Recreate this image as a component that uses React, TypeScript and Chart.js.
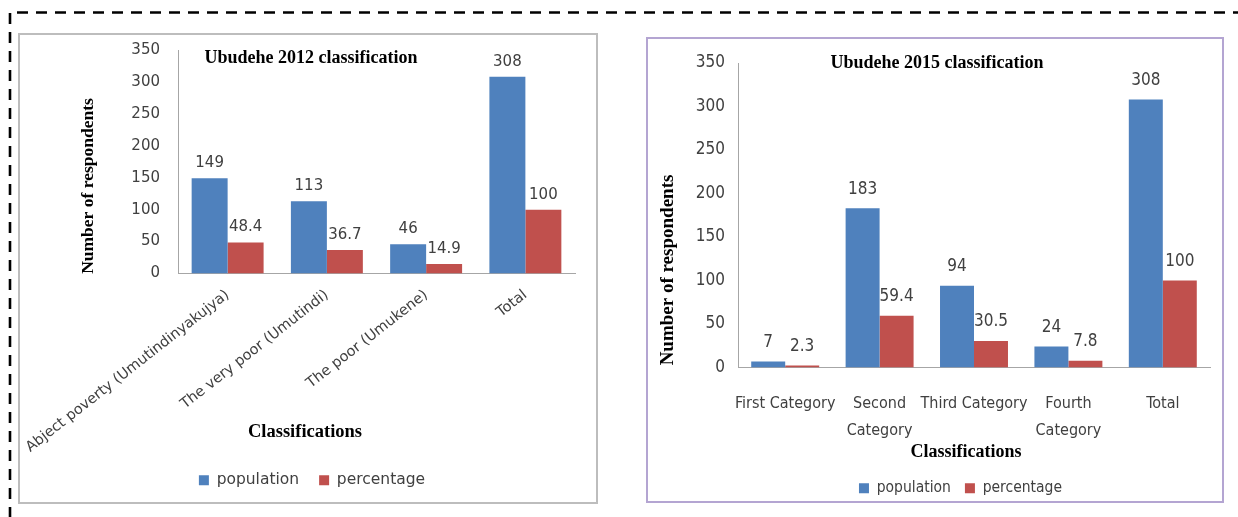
import React, { useEffect, useRef } from "react";
import { Chart, registerables } from "chart.js";

Chart.register(...registerables);

// Ubudehe 2012 classification
const classes2012 = [
  "Abject poverty (Umutindinyakujya)",
  "The very poor (Umutindi)",
  "The poor (Umukene)",
  "Total",
];
const population2012 = [149, 113, 46, 308];
const percentage2012 = [48.4, 36.7, 14.9, 100];

// Ubudehe 2015 classification
const classes2015 = [
  "First Category",
  ["Second", "Category"],
  "Third Category",
  ["Fourth", "Category"],
  "Total",
];
const population2015 = [7, 183, 94, 24, 308];
const percentage2015 = [2.3, 59.4, 30.5, 7.8, 100];

// shared value axis
const yTickValues = [0, 50, 100, 150, 200, 250, 300, 350];

const seriesNames = ["population", "percentage"];
const BLUE = "#4f81bd";
const RED = "#c0504d";
const AXIS = "#a6a6a6";
const TEXT = "#404040";

const SERIF = "'Liberation Serif', 'Times New Roman', serif";
const WIDE_SANS = "'DejaVu Sans', Verdana, sans-serif";
const NARROW_SANS = "'Liberation Sans Narrow', 'DejaVu Sans Condensed', 'Arial Narrow', sans-serif";

// Draws each bar's value above it
const valueLabels = {
  id: "valueLabels",
  afterDatasetsDraw(chart: any, _args: any, opts: any) {
    const ctx = chart.ctx;
    ctx.save();
    ctx.font = opts.font;
    ctx.fillStyle = opts.color;
    ctx.textAlign = "center";
    ctx.textBaseline = "middle";
    chart.data.datasets.forEach((ds: any, i: number) => {
      const meta = chart.getDatasetMeta(i);
      meta.data.forEach((el: any, j: number) => {
        ctx.fillText(String(ds.data[j]), el.x, el.y - opts.gap);
      });
    });
    ctx.restore();
  },
};

// Free-placed captions (chart heading and axis titles) and legend offset
const captions = {
  id: "captions",
  afterLayout(chart: any, _args: any, opts: any) {
    const shift = opts.legendShift || 0;
    if (chart.legend && shift) {
      chart.legend.left += shift;
      chart.legend.right += shift;
    }
  },
  afterDraw(chart: any, _args: any, opts: any) {
    const ctx = chart.ctx;
    (opts.items || []).forEach((it: any) => {
      ctx.save();
      ctx.font = it.font;
      ctx.fillStyle = "#000";
      ctx.textAlign = "center";
      ctx.textBaseline = "middle";
      ctx.translate(it.x, it.y);
      if (it.rotate) ctx.rotate(it.rotate);
      ctx.fillText(it.text, 0, 0);
      ctx.restore();
    });
  },
};

type Setup = {
  labels: any[];
  population: number[];
  percentage: number[];
  width: number;
  height: number;
  layoutPadding: any;
  yWidth: number;
  xHeight: number;
  yTickFont: any;
  yTickPad: number;
  xTickFont: any;
  xTickPad: number;
  rotation: number;
  catPct: number;
  legendFont: any;
  legendPad: number;
  legendShift: number;
  valueFont: string;
  valueGap: number;
  captionItems: any[];
};

function BarPanel({ s }: { s: Setup }) {
  const ref = useRef<HTMLCanvasElement>(null);
  useEffect(() => {
    if (!ref.current) return;
    const chart = new Chart(ref.current, {
      type: "bar",
      data: {
        labels: s.labels,
        datasets: [
          {
            label: seriesNames[0],
            data: s.population,
            backgroundColor: BLUE,
            categoryPercentage: s.catPct,
            barPercentage: 1,
          },
          {
            label: seriesNames[1],
            data: s.percentage,
            backgroundColor: RED,
            categoryPercentage: s.catPct,
            barPercentage: 1,
          },
        ],
      },
      options: {
        animation: false,
        responsive: false,
        layout: { padding: s.layoutPadding },
        scales: {
          x: {
            grid: { display: false, drawTicks: false },
            border: { display: true, color: AXIS, width: 1 },
            ticks: {
              autoSkip: false,
              minRotation: s.rotation,
              maxRotation: s.rotation,
              font: s.xTickFont,
              color: TEXT,
              padding: s.xTickPad,
            },
            afterFit: (scale: any) => {
              scale.height = s.xHeight;
              scale.paddingLeft = 0;
              scale.paddingRight = 0;
            },
          },
          y: {
            min: yTickValues[0],
            max: yTickValues[yTickValues.length - 1],
            grid: { display: false, drawTicks: false },
            border: { display: true, color: AXIS, width: 1 },
            ticks: {
              stepSize: yTickValues[1] - yTickValues[0],
              font: s.yTickFont,
              color: TEXT,
              padding: s.yTickPad,
            },
            afterFit: (scale: any) => {
              scale.width = s.yWidth;
              scale.paddingTop = 0;
              scale.paddingBottom = 0;
            },
          },
        },
        plugins: {
          legend: {
            position: "bottom",
            labels: {
              boxWidth: 10,
              boxHeight: 10,
              font: s.legendFont,
              color: TEXT,
              padding: s.legendPad,
            },
          },
          tooltip: { enabled: false },
          valueLabels: { font: s.valueFont, color: TEXT, gap: s.valueGap },
          captions: { items: s.captionItems, legendShift: s.legendShift },
        } as any,
      },
      plugins: [valueLabels, captions],
    });
    return () => chart.destroy();
  }, [s]);
  return <canvas ref={ref} width={s.width} height={s.height} />;
}

const left2012: Setup = {
  labels: classes2012,
  population: population2012,
  percentage: percentage2012,
  width: 574,
  height: 462,
  layoutPadding: { left: 0, top: 14, right: 20, bottom: 0 },
  yWidth: 157,
  xHeight: 179,
  yTickFont: { family: WIDE_SANS, size: 15 },
  yTickPad: 18,
  xTickFont: { family: WIDE_SANS, size: 14.5 },
  xTickPad: 13,
  rotation: 38,
  catPct: 0.725,
  legendFont: { family: WIDE_SANS, size: 15.5 },
  legendPad: 20,
  legendShift: 14,
  valueFont: `15px ${WIDE_SANS}`,
  valueGap: 15,
  captionItems: [
    { text: "Ubudehe 2012 classification", x: 290, y: 22, font: `bold 18px ${SERIF}` },
    { text: "Number of respondents", x: 67, y: 150, rotate: -Math.PI / 2, font: `bold 17.5px ${SERIF}` },
    { text: "Classifications", x: 284, y: 396, font: `bold 18.5px ${SERIF}` },
  ],
};

const right2015: Setup = {
  labels: classes2015,
  population: population2015,
  percentage: percentage2015,
  width: 572,
  height: 466,
  layoutPadding: { left: 0, top: 23, right: 11, bottom: 0 },
  yWidth: 89,
  xHeight: 99,
  yTickFont: { family: NARROW_SANS, size: 17 },
  yTickPad: 13,
  xTickFont: { family: NARROW_SANS, size: 16, lineHeight: "27px" },
  xTickPad: 23,
  rotation: 0,
  catPct: 0.72,
  legendFont: { family: NARROW_SANS, size: 15.5 },
  legendPad: 14,
  legendShift: 31,
  valueFont: `17px ${NARROW_SANS}`,
  valueGap: 19,
  captionItems: [
    { text: "Ubudehe 2015 classification", x: 288, y: 23, font: `bold 18px ${SERIF}` },
    { text: "Number of respondents", x: 19, y: 230, rotate: -Math.PI / 2, font: `bold 19px ${SERIF}` },
    { text: "Classifications", x: 317, y: 412, font: `bold 18px ${SERIF}` },
  ],
};

export default function App() {
  return (
    <div style={{ position: "absolute", left: 0, top: 0, width: 1238, height: 517, background: "#fff", overflow: "hidden" }}>
      <svg width={1238} height={517} style={{ position: "absolute", left: 0, top: 0 }}>
        <line x1={17} y1={12.5} x2={1238} y2={12.5} stroke="#000" strokeWidth={2.6} strokeDasharray="11 8" />
        <line x1={10} y1={13} x2={10} y2={517} stroke="#000" strokeWidth={2.6} strokeDasharray="11 8" />
      </svg>
      <div
        style={{
          position: "absolute",
          left: 18,
          top: 33,
          width: 580,
          height: 471,
          border: "2px solid #bdbdbd",
          boxSizing: "border-box",
        }}
      />
      <div
        style={{
          position: "absolute",
          left: 646,
          top: 37,
          width: 578,
          height: 466,
          border: "2px solid #b4a5d2",
          boxSizing: "border-box",
        }}
      />
      <div style={{ position: "absolute", left: 21, top: 36 }}>
        <BarPanel s={left2012} />
      </div>
      <div style={{ position: "absolute", left: 649, top: 40 }}>
        <BarPanel s={right2015} />
      </div>
    </div>
  );
}
